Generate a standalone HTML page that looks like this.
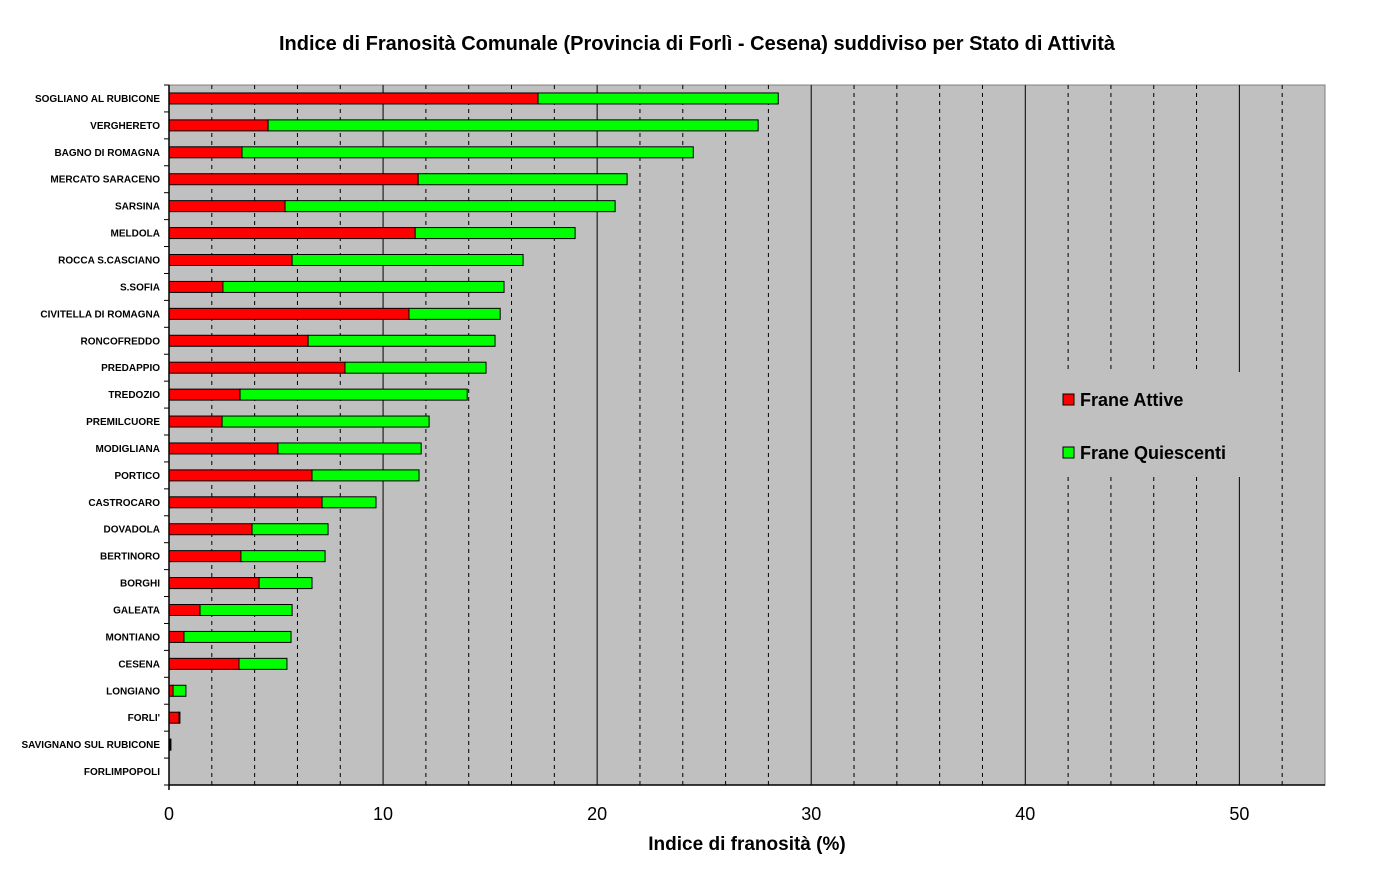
<!DOCTYPE html>
<html><head><meta charset="utf-8"><style>
html,body{margin:0;padding:0;background:#fff;}
svg{display:block;font-family:"Liberation Sans",Arial,sans-serif;}
</style></head><body>
<svg id="chart" width="1396" height="872" viewBox="0 0 1396 872" xmlns="http://www.w3.org/2000/svg">
<text x="697" y="50" text-anchor="middle" font-size="20" font-weight="bold">Indice di Franosità Comunale (Provincia di Forlì - Cesena) suddiviso per Stato di Attività</text>
<rect x="169" y="85" width="1156" height="700" fill="#c0c0c0" stroke="#808080" stroke-width="1"/>
<g id="grid"></g>
<g id="bars"></g>
<g id="axes"></g>
<g>
<rect x="1048" y="372" width="220" height="105" fill="#c0c0c0"/>
<rect x="1063" y="394" width="11" height="11" fill="#ff0000" stroke="#000"/>
<text x="1080" y="406" font-size="18" font-weight="bold">Frane Attive</text>
<rect x="1063" y="447" width="11" height="11" fill="#00ff00" stroke="#000"/>
<text x="1080" y="459" font-size="18" font-weight="bold">Frane Quiescenti</text>
</g>
<text x="747" y="850" text-anchor="middle" font-size="19" font-weight="bold">Indice di franosità (%)</text>
</svg>
<script>
const categories=["SOGLIANO AL RUBICONE","VERGHERETO","BAGNO DI ROMAGNA","MERCATO SARACENO","SARSINA","MELDOLA","ROCCA S.CASCIANO","S.SOFIA","CIVITELLA DI ROMAGNA","RONCOFREDDO","PREDAPPIO","TREDOZIO","PREMILCUORE","MODIGLIANA","PORTICO","CASTROCARO","DOVADOLA","BERTINORO","BORGHI","GALEATA","MONTIANO","CESENA","LONGIANO","FORLI'","SAVIGNANO SUL RUBICONE","FORLIMPOPOLI"];
const attive=[17.24,4.63,3.41,11.64,5.42,11.5,5.75,2.52,11.21,6.5,8.22,3.32,2.48,5.09,6.68,7.15,3.88,3.36,4.21,1.45,0.7,3.27,0.19,0.47,0.05,0];
const quiescenti=[11.22,22.89,21.08,9.76,15.42,7.47,10.79,13.13,4.26,8.73,6.59,10.61,9.67,6.69,5.0,2.52,3.55,3.93,2.47,4.3,5.0,2.24,0.6,0.04,0.04,0];
const xTicks=[0,10,20,30,40,50];
const X0=169,X1=1325,Y0=85,Y1=785,XMAX=54;
const NS="http://www.w3.org/2000/svg";
function xs(v){return X0+v/XMAX*(X1-X0);}
const band=(Y1-Y0)/categories.length;
function yc(i){return Y0+band*(i+0.5);}
function mk(tag,attrs,parent){const e=document.createElementNS(NS,tag);for(const k in attrs)e.setAttribute(k,attrs[k]);parent.appendChild(e);return e;}
const grid=document.getElementById('grid'),bars=document.getElementById('bars'),axes=document.getElementById('axes');
for(let v=2;v<XMAX;v+=2){
 const major=v%10===0;
 const l=mk('line',{x1:xs(v),x2:xs(v),y1:Y0,y2:Y1,stroke:'#000','stroke-width':1},grid);
 if(!major)l.setAttribute('stroke-dasharray','4,4');
 
 
}
const bh=11;
categories.forEach((c,i)=>{
 const y=yc(i);
 const t=mk('text',{x:160,y:y+3.5,'text-anchor':'end','font-size':10,'font-weight':'bold'},axes);
 t.textContent=c;
 
 
 if(attive[i]>0){
  const r=mk('rect',{x:xs(0),y:y-bh/2,width:xs(attive[i])-xs(0),height:bh,fill:'#ff0000',stroke:'#000','stroke-width':1},bars);
  
  
 }
 if(quiescenti[i]>0){
  const r=mk('rect',{x:xs(attive[i]),y:y-bh/2,width:xs(attive[i]+quiescenti[i])-xs(attive[i]),height:bh,fill:'#00ff00',stroke:'#000','stroke-width':1},bars);
  
  
 }
});
const ya=mk('line',{x1:X0,x2:X0,y1:Y0,y2:Y1+5,stroke:'#000','stroke-width':1.5},axes);


for(let i=0;i<=categories.length;i++){
 const tk=mk('line',{x1:X0-5,x2:X0,y1:Y0+band*i,y2:Y0+band*i,stroke:'#000'},axes);
 
 
}
const xa=mk('line',{x1:X0,x2:X1,y1:Y1,y2:Y1,stroke:'#000','stroke-width':1.5},axes);


xTicks.forEach(v=>{
 const t=mk('text',{x:xs(v),y:820,'text-anchor':'middle','font-size':18},axes);
 t.textContent=v;
 
 
});
</script>
</body></html>
